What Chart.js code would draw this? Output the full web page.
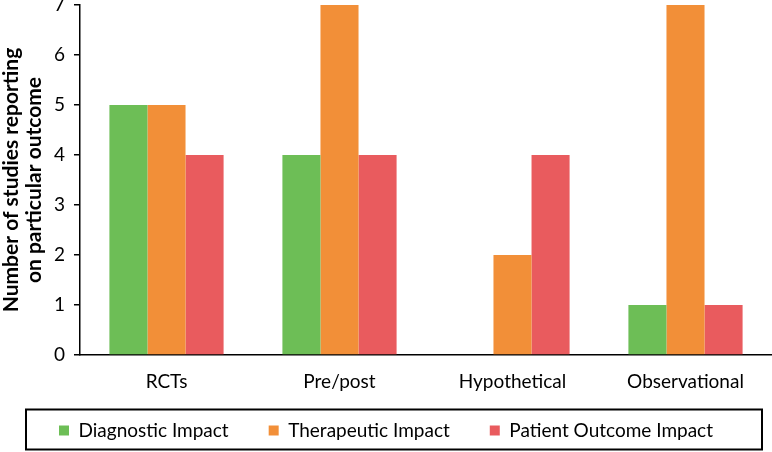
<!DOCTYPE html>
<html lang="en">
<head>
    <meta charset="UTF-8">
    <title>Studies by outcome</title>
    <script src="https://cdn.jsdelivr.net/npm/chart.js"></script>
    <style>
        body {
            margin: 0;
            padding: 0;
            background-color: #fff;
        }
        .wrap {
            width: 772px;
            height: 452px;
            position: relative;
        }
    </style>
</head>
<body>
    <div class="wrap">
        <canvas id="outcomeChart"></canvas>
    </div>

    <script>
        const categories = ['RCTs', 'Pre/post', 'Hypothetical', 'Observational'];
        const diagnostic = [5, 4, 0, 1];
        const therapeutic = [5, 7, 2, 7];
        const patientOutcome = [4, 4, 4, 1];
        const yTicks = [0, 1, 2, 3, 4, 5, 6, 7];

        const fontFamily = 'Lato, "Open Sans", sans-serif';
        const legendFont = 19;
        const legendGap = 40; // space between legend entries

        // the wide label padding would make the legend box tall, so the layout
        // gets a short box (maxHeight) and the box is stretched upward here
        const legendFrame = {
            id: 'legendFrame',
            afterLayout(chart) {
                const lg = chart.legend;
                lg.top = lg.bottom - (legendGap + legendFont + 10);
                lg.height = lg.bottom - lg.top;
            },
            afterDraw(chart) {
                const lg = chart.legend;
                const mid = lg.top + legendGap + legendFont / 2;
                const ctx = chart.ctx;
                ctx.save();
                ctx.strokeStyle = '#000';
                ctx.lineWidth = 2;
                ctx.strokeRect(26, mid - 21, chart.width - 36, 40);
                ctx.restore();
            }
        };

        new Chart(document.getElementById('outcomeChart').getContext('2d'), {
            type: 'bar',
            data: {
                labels: categories,
                datasets: [
                    { label: 'Diagnostic Impact', data: diagnostic, backgroundColor: '#6dbe56' },
                    { label: 'Therapeutic Impact', data: therapeutic, backgroundColor: '#f28f38' },
                    { label: 'Patient Outcome Impact', data: patientOutcome, backgroundColor: '#e95b5e' }
                ]
            },
            options: {
                responsive: true,
                maintainAspectRatio: false,
                animation: false,
                layout: { padding: { top: 5, bottom: 2, left: 0, right: 0 } },
                datasets: {
                    bar: { categoryPercentage: 0.66, barPercentage: 1.0 }
                },
                plugins: {
                    tooltip: { enabled: false },
                    legend: {
                        position: 'bottom',
                        maxHeight: 39,
                        labels: {
                            boxWidth: 10,
                            boxHeight: 10,
                            padding: legendGap,
                            color: '#000',
                            font: { family: fontFamily, size: legendFont }
                        }
                    }
                },
                scales: {
                    x: {
                        grid: { display: false, drawTicks: false },
                        border: { color: '#000', width: 1.5 },
                        ticks: {
                            color: '#000',
                            padding: 15,
                            font: { family: fontFamily, size: 19 }
                        },
                        afterFit(scale) { scale.height = 56; }
                    },
                    y: {
                        min: 0,
                        max: 7,
                        afterBuildTicks(scale) {
                            scale.ticks = yTicks.map(v => ({ value: v }));
                        },
                        grid: { drawOnChartArea: false, drawTicks: true, tickLength: 6, color: '#000', lineWidth: 1.5 },
                        border: { color: '#000', width: 1.5 },
                        ticks: {
                            color: '#000',
                            padding: 9,
                            font: { family: fontFamily, size: 19 }
                        },
                        title: {
                            display: true,
                            text: ['Number of studies reporting', 'on particular outcome'],
                            color: '#000',
                            padding: { top: 0, bottom: 0 },
                            font: { family: fontFamily, size: 21, weight: 'bold', lineHeight: 1.1 }
                        },
                        afterFit(scale) {
                            scale.width = 80;
                            // let the top label overflow like the original
                            scale.paddingTop = 0;
                            scale.paddingBottom = 0;
                        }
                    }
                }
            },
            plugins: [legendFrame]
        });
    </script>
</body>
</html>
